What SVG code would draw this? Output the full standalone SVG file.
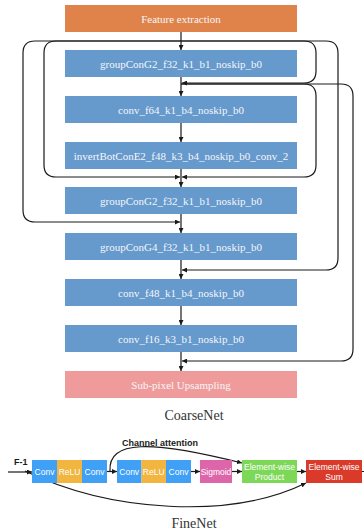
<svg xmlns="http://www.w3.org/2000/svg" width="364" height="532" viewBox="0 0 364 532">
<defs>
<marker id="ah" viewBox="0 0 10 10" refX="10" refY="5" markerWidth="5" markerHeight="5" markerUnits="userSpaceOnUse" orient="auto">
<path d="M0,0 L10,5 L0,10 z" fill="#1a1a1a"/>
</marker>
<style>
.blk rect{fill:#6699CC;}
.t{font-family:"Liberation Serif","Times New Roman",serif;font-size:11px;fill:#F4F6FA;text-anchor:middle;}
.c{fill:none;stroke:#1a1a1a;stroke-width:1.2;}
.f{font-family:"Liberation Sans",Arial,sans-serif;font-size:8.5px;fill:#FFFFFF;text-anchor:middle;}
.cap{font-family:"Liberation Serif","Times New Roman",serif;font-size:14px;fill:#333333;text-anchor:middle;}
.lb{font-family:"Liberation Sans",Arial,sans-serif;font-size:9px;font-weight:bold;fill:#1a1a1a;}
</style>
</defs>
<rect width="364" height="532" fill="#FFFFFF"/>

<g id="connectors">
<path class="c" d="M181,32 V50" marker-end="url(#ah)"/>
<path class="c" d="M181,77 V96" marker-end="url(#ah)"/>
<path class="c" d="M181,122 V142" marker-end="url(#ah)"/>
<path class="c" d="M181,168 V187" marker-end="url(#ah)"/>
<path class="c" d="M181,214 V233" marker-end="url(#ah)"/>
<path class="c" d="M181,260 V279" marker-end="url(#ah)"/>
<path class="c" d="M181,306 V325" marker-end="url(#ah)"/>
<path class="c" d="M181,352 V371" marker-end="url(#ah)"/>
<path class="c" d="M181,41 H304 Q316,41 316,53 V71 Q316,83 304,83 H182" marker-end="url(#ah)"/>
<path class="c" d="M181,84 H304 Q316,84 316,96 V165 Q316,177 304,177 H182" marker-end="url(#ah)"/>
<path class="c" d="M181,41 H56 Q44,41 44,53 V165 Q44,177 56,177 H180" marker-end="url(#ah)"/>
<path class="c" d="M181,41 H35 Q23,41 23,53 V210 Q23,222 35,222 H180" marker-end="url(#ah)"/>
<path class="c" d="M181,41 H326 Q338,41 338,53 V258 Q338,270 326,270 H182" marker-end="url(#ah)"/>
<path class="c" d="M181,84 H341 Q353,84 353,96 V349 Q353,361 341,361 H182" marker-end="url(#ah)"/>

<path class="c" d="M8,472 H32" marker-end="url(#ah)"/>
<path class="c" d="M25,471 C110,512 230,520 306,483" marker-end="url(#ah)"/>
<path class="c" d="M107,471.5 H117" marker-end="url(#ah)"/>
<path class="c" d="M110,471 C108,440 150,440 242,463" marker-end="url(#ah)"/>
<path class="c" d="M191,471.5 H200" marker-end="url(#ah)"/>
<path class="c" d="M232,471.5 H242" marker-end="url(#ah)"/>
<path class="c" d="M297,471.5 H306" marker-end="url(#ah)"/>
<path class="c" d="M362,471.5 H364"/>
</g>

<g id="feature">
<rect x="65" y="5" width="232" height="27" fill="#E0834A"/>
<text class="t" x="181" y="22.5">Feature extraction</text>
</g>
<g id="b1" class="blk"><rect x="65" y="50" width="232" height="27"/><text class="t" x="181" y="67.5">groupConG2_f32_k1_b1_noskip_b0</text></g>
<g id="b2" class="blk"><rect x="65" y="96" width="232" height="27"/><text class="t" x="181" y="113.5">conv_f64_k1_b4_noskip_b0</text></g>
<g id="b3" class="blk"><rect x="65" y="142" width="232" height="27"/><text class="t" x="181" y="159.5">invertBotConE2_f48_k3_b4_noskip_b0_conv_2</text></g>
<g id="b4" class="blk"><rect x="65" y="187" width="232" height="27"/><text class="t" x="181" y="204.5">groupConG2_f32_k1_b1_noskip_b0</text></g>
<g id="b5" class="blk"><rect x="65" y="233" width="232" height="27"/><text class="t" x="181" y="250.5">groupConG4_f32_k1_b1_noskip_b0</text></g>
<g id="b6" class="blk"><rect x="65" y="279" width="232" height="27"/><text class="t" x="181" y="296.5">conv_f48_k1_b4_noskip_b0</text></g>
<g id="b7" class="blk"><rect x="65" y="325" width="232" height="27"/><text class="t" x="181" y="342.5">conv_f16_k3_b1_noskip_b0</text></g>
<g id="up">
<rect x="65" y="371" width="232" height="27" fill="#F09B9B"/>
<text class="t" x="181" y="388.5">Sub-pixel Upsampling</text>
</g>
<text class="cap" x="194" y="420">CoarseNet</text>

<g id="fn-conv1"><rect x="32" y="460" width="25" height="23" fill="#3FA0F5"/><text class="f" x="44.5" y="474.5">Conv</text></g>
<g id="fn-relu1"><rect x="57" y="460" width="25" height="23" fill="#F2B53F"/><text class="f" x="69.5" y="474.5">ReLU</text></g>
<g id="fn-conv2"><rect x="82" y="460" width="25" height="23" fill="#3FA0F5"/><text class="f" x="94.5" y="474.5">Conv</text></g>
<g id="fn-conv3"><rect x="117" y="460" width="24.5" height="23" fill="#3FA0F5"/><text class="f" x="129.2" y="474.5">Conv</text></g>
<g id="fn-relu2"><rect x="141.5" y="460" width="24.5" height="23" fill="#F2B53F"/><text class="f" x="153.7" y="474.5">ReLU</text></g>
<g id="fn-conv4"><rect x="166" y="460" width="25" height="23" fill="#3FA0F5"/><text class="f" x="178.5" y="474.5">Conv</text></g>
<g id="fn-sig"><rect x="200" y="460" width="32" height="23" fill="#DD66AA"/><text class="f" x="216" y="474.5">Sigmoid</text></g>
<g id="fn-prod"><rect x="242" y="460" width="55" height="23" fill="#7DD858"/><text class="f" x="269.5" y="469.5">Element-wise</text><text class="f" x="269.5" y="480">Product</text></g>
<g id="fn-sum"><rect x="306" y="460" width="56" height="23" fill="#DA3A2A"/><text class="f" x="334" y="469.5">Element-wise</text><text class="f" x="334" y="480">Sum</text></g>
<text class="lb" x="14" y="465">F-1</text>
<text class="lb" x="122" y="446">Channel attention</text>
<text class="cap" x="194" y="528">FineNet</text>
</svg>
